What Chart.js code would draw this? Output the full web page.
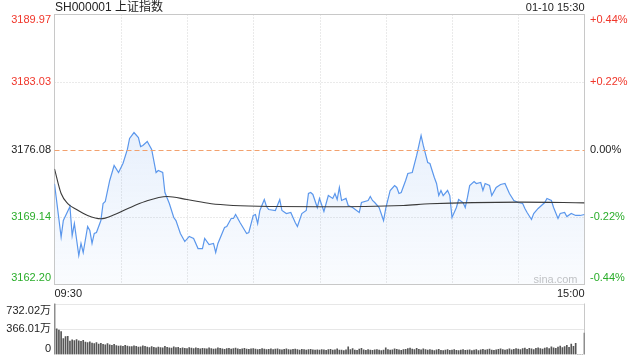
<!DOCTYPE html>
<html>
<head>
<meta charset="utf-8">
<script src="https://cdn.jsdelivr.net/npm/chart.js@4"></script>
<style>
  html, body { margin: 0; padding: 0; background: #fff; }
  #wrap { position: relative; width: 640px; height: 360px; }
  canvas { position: absolute; left: 0; top: 0; }
</style>
</head>
<body>
<div id="wrap">
  <canvas id="volChart" width="640" height="360"></canvas>
  <canvas id="priceChart" width="640" height="360"></canvas>
</div>
<script>
const title = 'SH000001 上证指数';
const stamp = '01-10 15:30';
const preClose = 3176.08;

// y ticks of the price panel, left and right
const priceTicks = [3189.97, 3183.03, 3176.08, 3169.14, 3162.20];
const pctTicks = ['+0.44%', '+0.22%', '0.00%', '-0.22%', '-0.44%'];
const tickColors = ['#f0362a', '#f0362a', '#222', '#2aad2a', '#2aad2a'];

// minutes from 09:30 (0..240, lunch break removed)
const gridMinutes = [30, 60, 90, 120, 150, 180, 210];
const timeLabels = ['09:30', '15:00'];

// price line
const priceMin = [
  0, 3, 4, 7, 8, 9, 11, 12, 13, 15,
  16, 17, 18, 19, 21, 22, 23, 25, 27, 29,
  31, 33, 34, 36, 38, 39, 40, 42, 44, 46,
  47, 49, 50, 52, 54, 55, 57, 59, 61, 63,
  65, 67, 68, 70, 72, 73, 74, 77, 78, 80,
  81, 82, 84, 87, 88, 90, 91, 92, 93, 95,
  96, 97, 100, 102, 103, 105, 107, 108, 109, 110,
  112, 114, 115, 116, 117, 119, 120, 122, 124, 126,
  127, 128, 129, 130, 132, 133, 135, 138, 139, 142,
  143, 144, 145, 147, 149, 150, 152, 154, 155, 156,
  157, 159, 160, 162, 164, 166, 167, 169, 170, 172,
  173, 174, 175, 176, 178, 179, 180, 182, 183, 185,
  186, 187, 188, 190, 191, 193, 194, 195, 197, 198,
  200, 202, 204, 205, 206, 208, 210, 212, 213, 214,
  216, 217, 219, 222, 223, 225, 226, 228, 229, 231,
  232, 234, 236, 238, 240
];
const prices = [
  3172.56, 3167.07, 3168.78, 3170.22, 3167.24, 3168.47, 3165.18, 3166.42, 3165.49, 3168.17,
  3167.75, 3166.42, 3167.45, 3167.55, 3168.78, 3170.53, 3170.74, 3172.90, 3174.44, 3173.72,
  3174.65, 3176.09, 3177.22, 3177.83, 3177.32, 3176.39, 3176.50, 3176.91, 3176.09, 3173.72,
  3173.93, 3173.72, 3171.66, 3170.53, 3169.09, 3168.78, 3167.45, 3166.62, 3167.14, 3166.93,
  3165.90, 3165.90, 3166.93, 3166.31, 3166.42, 3165.49, 3166.42, 3168.06, 3168.17, 3168.99,
  3168.99, 3169.40, 3168.58, 3167.45, 3167.55, 3169.30, 3169.40, 3168.47, 3169.81, 3170.94,
  3170.22, 3169.91, 3169.81, 3170.94, 3169.81, 3169.50, 3169.61, 3169.09, 3168.58, 3168.17,
  3169.50, 3169.81, 3171.56, 3171.66, 3171.46, 3170.12, 3171.05, 3169.71, 3171.35, 3171.05,
  3171.56, 3170.94, 3172.18, 3170.84, 3171.05, 3170.33, 3170.12, 3169.61, 3170.63, 3170.84,
  3171.25, 3170.84, 3170.63, 3170.12, 3168.78, 3170.02, 3171.87, 3172.38, 3172.18, 3171.56,
  3171.66, 3172.90, 3173.62, 3173.72, 3175.47, 3177.53, 3176.50, 3174.75, 3174.65, 3173.21,
  3172.59, 3171.35, 3171.87, 3171.35, 3171.87, 3171.35, 3169.09, 3170.12, 3170.94, 3170.63,
  3170.12, 3171.15, 3172.38, 3172.79, 3172.59, 3172.69, 3171.87, 3172.59, 3172.38, 3171.35,
  3172.18, 3172.49, 3172.59, 3172.07, 3171.56, 3170.84, 3170.63, 3170.53, 3170.02, 3169.61,
  3168.89, 3169.50, 3170.02, 3170.63, 3171.05, 3170.84, 3170.12, 3168.99, 3169.50, 3169.61,
  3169.19, 3169.50, 3169.30, 3169.30, 3169.40
];

// average price line
const avgMin = [0, 3, 6, 10, 15, 21, 27, 33, 41, 51, 60, 71, 81, 100, 120, 158, 170, 211, 240];
const avgPrice = [3174.10, 3171.56, 3170.53, 3169.91, 3169.30, 3168.96, 3169.37, 3169.99, 3170.74, 3171.25,
  3170.94, 3170.50, 3170.33, 3170.22, 3170.19, 3170.33, 3170.50, 3170.67, 3170.60];

// volume per minute, in 万
const volTicks = [732.02, 366.01, 0];
const volLabels = ['732.02万', '366.01万', '0'];
const volumes = [
  732.02, 368, 352, 330, 228, 256, 260, 192, 212, 200,
  214, 196, 188, 205, 178, 170, 182, 165, 158, 172,
  150, 162, 145, 140, 155, 138, 132, 146, 128, 120,
  125, 118, 130, 122, 115, 112, 126, 119, 108, 110,
  124, 116, 105, 98, 112, 102, 96, 108, 100, 94,
  118, 104, 97, 92, 110, 99, 103, 88, 95, 90,
  86, 100, 92, 84, 96, 88, 82, 90, 85, 80,
  94, 86, 79, 83, 97, 88, 81, 76, 85, 90,
  78, 84, 92, 80, 75, 82, 88, 77, 73, 80,
  86, 79, 72, 76, 84, 78, 70, 74, 81, 69,
  77, 83, 72, 68, 75, 80, 71, 66, 73, 78,
  70, 65, 74, 69, 63, 71, 76, 67, 62, 68,
  64, 72, 66, 60, 70, 75, 63, 68, 80, 65,
  62, 58, 67, 110, 72, 85, 64, 60, 78, 90,
  66, 61, 70, 64, 59, 67, 72, 62, 58, 65,
  95, 70, 63, 68, 80, 74, 66, 60, 69, 76,
  84, 92, 78, 70, 88, 75, 68, 80, 72, 64,
  70, 62, 58, 66, 74, 61, 57, 63, 69, 60,
  65, 72, 60, 56, 64, 70, 59, 62, 68, 57,
  63, 71, 58, 66, 74, 62, 69, 78, 64, 60,
  67, 75, 82, 70, 64, 72, 80, 68, 74, 86,
  78, 70, 84, 92, 76, 88, 80, 72, 90, 96,
  84, 78, 92, 100, 86, 110, 95, 88, 105, 120,
  98, 112, 130, 104, 150, 118, 160, 2, 2, 2,
  306
];

const FONT = '11px "Liberation Sans", Arial, "Noto Sans CJK SC", sans-serif';

function vLine(ctx, x, y1, y2, color, dash) {
  ctx.save();
  ctx.strokeStyle = color;
  ctx.lineWidth = 1;
  ctx.setLineDash(dash || []);
  ctx.beginPath();
  ctx.moveTo(x, y1);
  ctx.lineTo(x, y2);
  ctx.stroke();
  ctx.restore();
}
function hLine(ctx, y, x1, x2, color, dash) {
  ctx.save();
  ctx.strokeStyle = color;
  ctx.lineWidth = 1;
  ctx.setLineDash(dash || []);
  ctx.beginPath();
  ctx.moveTo(x1, y);
  ctx.lineTo(x2, y);
  ctx.stroke();
  ctx.restore();
}

const priceFrame = {
  id: 'priceFrame',
  beforeDatasetsDraw(chart) {
    const {ctx, chartArea: a, scales: {x, y}} = chart;
    gridMinutes.forEach(m => {
      const px = Math.round(x.getPixelForValue(m)) + 0.5;
      vLine(ctx, px, a.top, a.bottom, '#d4d4d4', [1, 2]);
    });
    [priceTicks[1], priceTicks[3]].forEach(v => {
      const py = Math.round(y.getPixelForValue(v)) + 0.5;
      hLine(ctx, py, a.left, a.right, '#d4d4d4', [1, 2]);
    });
    ctx.save();
    ctx.strokeStyle = '#c8c8c8';
    ctx.lineWidth = 1;
    ctx.strokeRect(a.left, a.top, a.right - a.left, a.bottom - a.top);
    ctx.restore();
    ctx.save();
    ctx.font = FONT;
    ctx.fillStyle = '#c4c4c4';
    ctx.textAlign = 'right';
    ctx.textBaseline = 'middle';
    ctx.fillText('sina.com', a.right - 7, a.bottom - 5);
    ctx.restore();
  },
  afterDatasetsDraw(chart) {
    const {ctx, chartArea: a, scales: {y}} = chart;
    const py = Math.round(y.getPixelForValue(preClose)) + 0.5;
    hLine(ctx, py, a.left, a.right, '#f2a16e', [5, 3]);
  },
  afterDraw(chart) {
    const {ctx, chartArea: a, scales: {y}} = chart;
    ctx.save();
    ctx.font = FONT;
    ctx.textBaseline = 'middle';
    priceTicks.forEach((v, i) => {
      let py = y.getPixelForValue(v);
      if (i === 0) py += 5.5;
      if (i === priceTicks.length - 1) py -= 6.5;
      ctx.fillStyle = tickColors[i];
      ctx.textAlign = 'right';
      ctx.fillText(v.toFixed(2), a.left - 3.5, py);
      ctx.textAlign = 'left';
      ctx.fillText(pctTicks[i], a.right + 5.5, py);
    });
    ctx.fillStyle = '#222';
    ctx.textAlign = 'left';
    ctx.fillText(timeLabels[0], a.left, a.bottom + 9.5);
    ctx.textAlign = 'right';
    ctx.fillText(timeLabels[1], a.right, a.bottom + 9.5);
    ctx.fillText(stamp, a.right, 8);
    ctx.font = '12px "Liberation Sans", Arial, "Noto Sans CJK SC", sans-serif';
    ctx.textAlign = 'left';
    ctx.fillText(title, a.left + 0.5, 7.5);
    ctx.restore();
  }
};

const volFrame = {
  id: 'volFrame',
  beforeDatasetsDraw(chart) {
    const {ctx, chartArea: a, scales: {y}} = chart;
    volTicks.slice(0, 2).forEach(v => {
      const py = Math.round(y.getPixelForValue(v)) + 0.5;
      hLine(ctx, py, a.left, a.right, '#cfcfcf', [1, 1]);
    });
    vLine(ctx, a.left, a.top, a.bottom, '#c8c8c8');
    vLine(ctx, a.right, a.top, a.bottom, '#c8c8c8');
  },
  afterDraw(chart) {
    const {ctx, chartArea: a, scales: {y}} = chart;
    ctx.save();
    ctx.font = FONT;
    ctx.textBaseline = 'middle';
    ctx.textAlign = 'right';
    ctx.fillStyle = '#222';
    volTicks.forEach((v, i) => {
      let py = y.getPixelForValue(v);
      if (i === 0) py += 7.5;
      if (i === volTicks.length - 1) py -= 6;
      ctx.fillText(volLabels[i], a.left - 3.5, py);
    });
    ctx.restore();
  }
};

new Chart(document.getElementById('priceChart'), {
  type: 'line',
  data: {
    datasets: [
      {
        data: priceMin.map((m, i) => ({x: m, y: prices[i]})),
        borderColor: '#5b97ec',
        borderWidth: 1.2,
        pointRadius: 0,
        tension: 0,
        fill: 'start',
        backgroundColor: (c) => {
          const a = c.chart.chartArea;
          if (!a) return 'rgba(91,151,236,0.1)';
          const g = c.chart.ctx.createLinearGradient(0, a.top, 0, a.bottom);
          g.addColorStop(0, 'rgba(91,151,236,0.22)');
          g.addColorStop(1, 'rgba(91,151,236,0.03)');
          return g;
        },
        order: 2
      },
      {
        data: avgMin.map((m, i) => ({x: m, y: avgPrice[i]})),
        borderColor: '#3a3a3a',
        borderWidth: 1.1,
        pointRadius: 0,
        cubicInterpolationMode: 'monotone',
        fill: false,
        order: 1
      }
    ]
  },
  options: {
    responsive: false,
    animation: false,
    layout: {padding: {left: 54.5, right: 55.5, top: 14.5, bottom: 75.5}},
    plugins: {legend: {display: false}, tooltip: {enabled: false}},
    scales: {
      x: {type: 'linear', min: 0, max: 240, display: false},
      y: {min: priceTicks[4], max: priceTicks[0], display: false}
    }
  },
  plugins: [priceFrame]
});

new Chart(document.getElementById('volChart'), {
  type: 'bar',
  data: {
    datasets: [{
      data: volumes.map((v, i) => ({x: i, y: v})),
      backgroundColor: '#555',
      barThickness: 1,
      borderWidth: 0
    }]
  },
  options: {
    responsive: false,
    animation: false,
    layout: {padding: {left: 54.5, right: 55.5, top: 303.5, bottom: 5.5}},
    plugins: {legend: {display: false}, tooltip: {enabled: false}},
    scales: {
      x: {type: 'linear', min: 0, max: 240, offset: false, display: false},
      y: {min: 0, max: volTicks[0], display: false}
    }
  },
  plugins: [volFrame]
});
</script>
</body>
</html>
